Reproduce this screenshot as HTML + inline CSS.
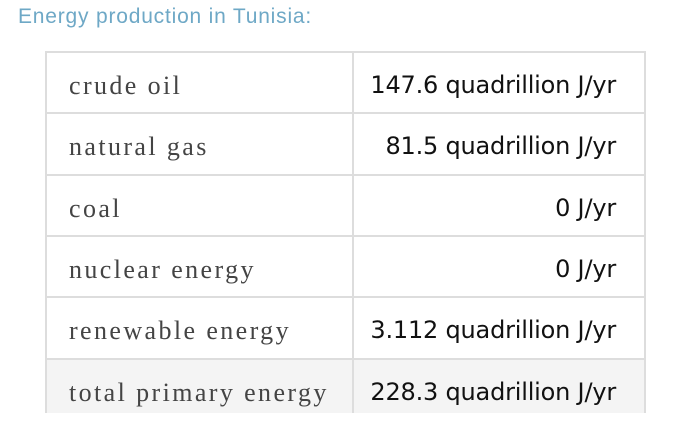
<!DOCTYPE html>
<html><head><meta charset="utf-8"><style>
body{margin:0;width:675px;height:429px;background:#fff;position:relative;overflow:hidden}
.title{position:absolute;left:18px;top:5px;font:21px "Liberation Sans",sans-serif;color:#6ea8c6;letter-spacing:0.8px}
.tbl{position:absolute;left:45px;top:51px;width:597px;height:362px;overflow:hidden;border-left:2px solid #ddd;border-right:2px solid #ddd}
.row{position:absolute;left:0;width:597px;height:61px;border-top:2px solid #ddd;box-sizing:border-box}
.k{position:absolute;left:22px;top:3px;font:26px/59px "Liberation Serif",serif;color:#444;letter-spacing:2.4px}
.v{position:absolute;right:28px;top:3px;font:24px/59px "DejaVu Sans","Liberation Sans",sans-serif;color:#111;letter-spacing:-0.2px}
.div{position:absolute;left:305px;top:0;width:2px;height:100%;background:#ddd}
</style></head><body>
<div class="title">Energy production in Tunisia:</div>
<div class="tbl">
<div class="row" style="top:0"><span class="k">crude oil</span><span class="v">147.6 quadrillion J/yr</span></div>
<div class="row" style="top:61.3px"><span class="k">natural gas</span><span class="v">81.5 quadrillion J/yr</span></div>
<div class="row" style="top:122.6px"><span class="k">coal</span><span class="v">0 J/yr</span></div>
<div class="row" style="top:183.9px"><span class="k">nuclear energy</span><span class="v">0 J/yr</span></div>
<div class="row" style="top:245.2px"><span class="k">renewable energy</span><span class="v">3.112 quadrillion J/yr</span></div>
<div class="row" style="top:306.5px;height:70px;background:#f4f4f4"><span class="k">total primary energy</span><span class="v">228.3 quadrillion J/yr</span></div>
<div class="div"></div>
</div>
</body></html>
